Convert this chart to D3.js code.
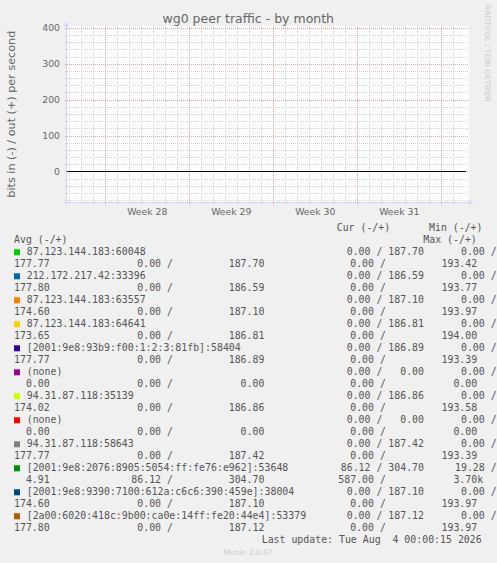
<!DOCTYPE html>
<html>
<head>
<meta charset="utf-8">
<script src="https://cdn.jsdelivr.net/npm/d3@7"></script>
<style>
  html, body { margin: 0; padding: 0; background: #f0f0f0; }
  svg { display: block; }
  text { white-space: pre; }
  .sans { font-family: "DejaVu Sans", sans-serif; fill: #666; }
  .mono { font-family: "DejaVu Sans Mono", monospace; font-size: 9.9px; fill: #555; }
</style>
</head>
<body>
<div id="chart"></div>
<script>
// chart values
const title = 'wg0 peer traffic - by month';
const yLabel = 'bits in (-) / out (+) per second';
const timeStart = new Date('2026-07-02T19:24:00Z');
const timeEnd = new Date('2026-08-05T00:00:00Z');
const yMin = -86.5, yMax = 403.6;
const yMajor = [0, 100, 200, 300, 400];
const lastUpdate = 'Last update: Tue Aug  4 00:00:15 2026';

const peers = [
  '87.123.144.183:60048',
  '212.172.217.42:33396',
  '87.123.144.183:63557',
  '87.123.144.183:64641',
  '[2001:9e8:93b9:f00:1:2:3:81fb]:58404',
  '(none)',
  '94.31.87.118:35139',
  '(none)',
  '94.31.87.118:58643',
  '[2001:9e8:2076:8905:5054:ff:fe76:e962]:53648',
  '[2001:9e8:9390:7100:612a:c6c6:390:459e]:38004',
  '[2a00:6020:418c:9b00:ca0e:14ff:fe20:44e4]:53379'
];
const colors = ['#00CC00', '#0066B3', '#FF8000', '#FFCC00', '#330099', '#990099',
  '#CCFF00', '#FF0000', '#808080', '#008F00', '#00487D', '#B35A00'];
const curIn  = [0, 0, 0, 0, 0, 0, 0, 0, 0, 86.12, 0, 0];
const curOut = [187.70, 186.59, 187.10, 186.81, 186.89, 0, 186.86, 0, 187.42, 304.70, 187.10, 187.12];
const minIn  = [0, 0, 0, 0, 0, 0, 0, 0, 0, 19.28, 0, 0];
const minOut = [177.77, 177.80, 174.60, 173.65, 177.77, 0, 174.02, 0, 177.77, 4.91, 174.60, 177.80];
const avgIn  = [0, 0, 0, 0, 0, 0, 0, 0, 0, 86.12, 0, 0];
const avgOut = [187.70, 186.59, 187.10, 186.81, 186.89, 0, 186.86, 0, 187.42, 304.70, 187.10, 187.12];
const maxIn  = [0, 0, 0, 0, 0, 0, 0, 0, 0, 587.00, 0, 0];
const maxOut = [193.42, 193.77, 193.97, 194.00, 193.39, 0, 193.58, 0, 193.39, 3700, 193.97, 193.97];

const W = 497, H = 563;
const svg = d3.select('#chart').append('svg')
  .attr('width', W)
  .attr('height', H);

const x = d3.scaleUtc().domain([timeStart, timeEnd]).range([67, 465.3]);
const y = d3.scaleLinear().domain([yMin, yMax]).range([202.5, 26.5]);

// canvas
svg.append('rect')
  .attr('x', 66).attr('y', 26)
  .attr('width', 403).attr('height', 176.5)
  .attr('fill', '#fff');

const gridMinor = '#d2d2d2';
const gridMajor = '#e8a2a2';

// horizontal grid
const yMinor = d3.range(-80, 401, 20).filter(v => v % 100 !== 0);
svg.append('g').selectAll('line').data(yMinor).join('line')
  .attr('x1', 65).attr('x2', 469)
  .attr('y1', d => Math.round(y(d)) + 0.5).attr('y2', d => Math.round(y(d)) + 0.5)
  .attr('stroke', gridMinor).attr('stroke-dasharray', '1,1');
svg.append('g').selectAll('line').data(yMajor).join('line')
  .attr('x1', 65).attr('x2', 469)
  .attr('y1', d => Math.round(y(d)) + 0.5).attr('y2', d => Math.round(y(d)) + 0.5)
  .attr('stroke', gridMajor).attr('stroke-dasharray', '1,1');

// vertical grid: days and weeks
const days = d3.utcDay.range(timeStart, timeEnd).filter(d => d.getUTCDay() !== 1);
const mondays = d3.utcMonday.range(timeStart, timeEnd);
svg.append('g').selectAll('line').data(days).join('line')
  .attr('x1', d => Math.round(x(d)) + 0.5).attr('x2', d => Math.round(x(d)) + 0.5)
  .attr('y1', 27).attr('y2', 205)
  .attr('stroke', gridMinor).attr('stroke-dasharray', '1,1');
svg.append('g').selectAll('line').data(mondays).join('line')
  .attr('x1', d => Math.round(x(d)) + 0.5).attr('x2', d => Math.round(x(d)) + 0.5)
  .attr('y1', 27).attr('y2', 205.5)
  .attr('stroke', gridMajor).attr('stroke-dasharray', '1,1');

// axes
const axisColor = '#CFD6F8';
svg.append('line')
  .attr('x1', 66.5).attr('x2', 66.5).attr('y1', 26).attr('y2', 205)
  .attr('stroke', axisColor);
svg.append('line')
  .attr('x1', 64).attr('x2', 470).attr('y1', 202.5).attr('y2', 202.5)
  .attr('stroke', axisColor);
svg.append('path')
  .attr('d', 'M64,26.5 L69,26.5 L66.5,21.5 Z')
  .attr('fill', axisColor);
svg.append('path')
  .attr('d', 'M468.5,200 L468.5,205 L473.5,202.5 Z')
  .attr('fill', axisColor);

// zero rule
svg.append('line')
  .attr('x1', x(timeStart)).attr('x2', x(timeEnd) + 0.7)
  .attr('y1', Math.round(y(0)) + 0.5).attr('y2', Math.round(y(0)) + 0.5)
  .attr('stroke', '#000').attr('stroke-width', 1.2);

// y tick labels
svg.append('g').selectAll('text').data(yMajor).join('text')
  .attr('class', 'sans')
  .attr('x', 60).attr('y', d => y(d) + 3.4)
  .attr('text-anchor', 'end')
  .style('font-size', '9.3px')
  .text(d => d);

// week labels
const weekFmt = d3.utcFormat('%V');
const weekMids = mondays
  .map(m => ({ m, mid: d3.utcHour.offset(m, 84) }))
  .filter(d => d.mid < timeEnd && d.mid > timeStart);
svg.append('g').selectAll('text').data(weekMids).join('text')
  .attr('class', 'sans')
  .attr('x', d => x(d.mid)).attr('y', 215.4)
  .attr('text-anchor', 'middle')
  .style('font-size', '9.3px')
  .text(d => 'Week ' + weekFmt(d.m));

// title
svg.append('text')
  .attr('class', 'sans')
  .attr('x', 248.3).attr('y', 23.3)
  .attr('text-anchor', 'middle')
  .style('font-size', '12.5px')
  .text(title);

// y axis label
svg.append('text')
  .attr('class', 'sans')
  .attr('transform', 'translate(14.5,114.2) rotate(-90)')
  .attr('text-anchor', 'middle')
  .style('font-size', '11.2px')
  .text(yLabel);

// watermark
svg.append('text')
  .attr('class', 'sans')
  .attr('transform', 'translate(484.6,53.3) rotate(90)')
  .attr('text-anchor', 'middle')
  .style('font-size', '7.5px')
  .style('fill', '#ccc')
  .text('RRDTOOL / TOBI OETIKER');

// legend
const fmt = v => {
  if (v >= 1000) return d3.format('6.2f')(v / 1000) + 'k';
  return d3.format('6.2f')(v) + ' ';
};

const legend = svg.append('g');
function mono(xp, yp, s) {
  legend.append('text').attr('class', 'mono').attr('x', xp).attr('y', yp).text(s);
}
mono(336.7, 231.3, 'Cur (-/+)');
mono(429, 231.3, 'Min (-/+)');
mono(14, 243.3, 'Avg (-/+)');
mono(423.3, 243.3, 'Max (-/+)');

peers.forEach((p, i) => {
  const b1 = 255.3 + 24 * i, b2 = b1 + 12;
  legend.append('rect')
    .attr('x', 14).attr('y', b1 - 6)
    .attr('width', 6).attr('height', 6)
    .attr('fill', colors[i]);
  mono(26.7, b1, p);
  mono(334.8, b1, fmt(curIn[i]).trimEnd() + ' / ' + fmt(curOut[i]).trimEnd());
  mono(449.1, b1, fmt(minIn[i]).trimEnd() + ' /');
  mono(14, b2, fmt(minOut[i]).trimEnd());
  mono(125.4, b2, fmt(avgIn[i]).trimEnd() + ' /');
  mono(228.7, b2, fmt(avgOut[i]).trimEnd());
  mono(338.3, b2, fmt(maxIn[i]).trimEnd() + ' /');
  mono(441.5, b2, fmt(maxOut[i]));
});

mono(261.7, 543.3, lastUpdate);

svg.append('text')
  .attr('class', 'sans')
  .attr('x', 248).attr('y', 554.8)
  .attr('text-anchor', 'middle')
  .style('font-size', '7.5px')
  .style('fill', '#ccc')
  .text('Munin 2.0.67');
</script>
</body>
</html>
